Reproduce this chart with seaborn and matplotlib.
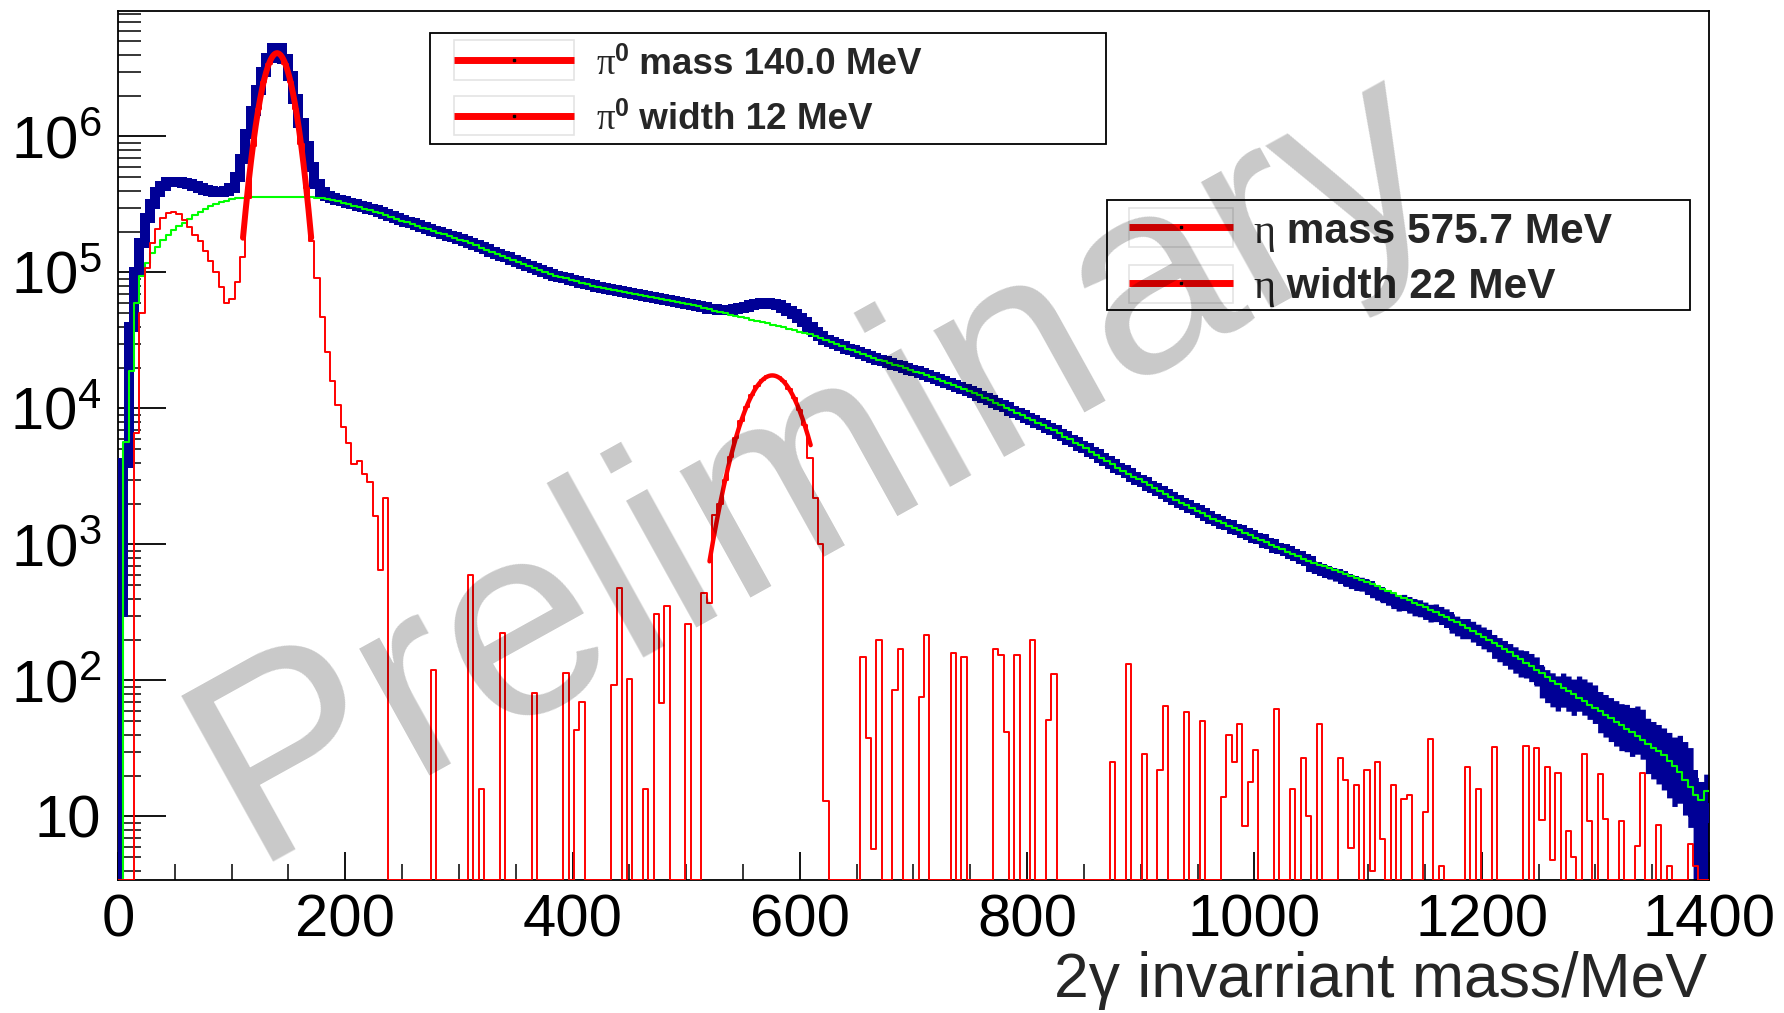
import numpy as np
import pandas as pd
import matplotlib
matplotlib.use("Agg")
import matplotlib.pyplot as plt
import seaborn as sns
from matplotlib.patches import Rectangle
from matplotlib.ticker import MultipleLocator, LogLocator, NullFormatter
from matplotlib.transforms import ScaledTranslation

# ---------------------------------------------------------------------------
# Two-photon invariant mass spectrum, 300 bins of 14/3 MeV from 0 to 1400 MeV
# ---------------------------------------------------------------------------
mass_lo, mass_hi, n_bins = 0.0, 1400.0, 300

# measured spectrum (all photon pairs)
data_counts = [
    320, 4.0e3, 4.0e4, 1.0e5, 1.65e5, 2.5e5, 3.2e5, 3.9e5, 4.35e5, 4.6e5,
    4.65e5, 4.6e5, 4.55e5, 4.45e5, 4.35e5, 4.2e5, 4.05e5, 3.95e5, 3.9e5, 3.88e5,
    3.95e5, 4.2e5, 5.0e5, 6.8e5, 1.05e6, 1.55e6, 2.2e6, 3.0e6, 3.8e6, 4.5e6,
    4.5e6, 3.7e6, 2.8e6, 1.9e6, 1.25e6, 8.5e5, 6.0e5, 4.5e5, 3.9e5, 3.65e5,
    3.5e5, 3.42e5, 3.34e5, 3.26e5, 3.17e5, 3.1e5, 3.02e5, 2.94e5, 2.86e5, 2.78e5,
    2.7e5, 2.6e5, 2.5e5, 2.42e5, 2.36e5, 2.3e5, 2.22e5, 2.16e5, 2.1e5, 2.03e5,
    1.97e5, 1.92e5, 1.86e5, 1.81e5, 1.75e5, 1.70e5, 1.65e5, 1.59e5, 1.53e5, 1.48e5,
    1.42e5, 1.37e5, 1.33e5, 1.29e5, 1.24e5, 1.20e5, 1.16e5, 1.12e5, 1.08e5, 1.04e5,
    1.0e5, 9.75e4, 9.5e4, 9.28e4, 9.05e4, 8.85e4, 8.62e4, 8.42e4, 8.22e4, 8.05e4,
    7.85e4, 7.7e4, 7.56e4, 7.45e4, 7.3e4, 7.2e4, 7.06e4, 6.94e4, 6.82e4, 6.72e4,
    6.6e4, 6.5e4, 6.38e4, 6.26e4, 6.15e4, 6.05e4, 5.95e4, 5.86e4, 5.76e4, 5.66e4,
    5.56e4, 5.42e4, 5.42e4, 5.33e4, 5.31e4, 5.34e4, 5.41e4, 5.51e4, 5.62e4, 5.75e4,
    5.88e4, 5.94e4, 5.94e4, 5.87e4, 5.73e4, 5.52e4, 5.25e4, 4.95e4, 4.64e4, 4.34e4,
    3.95e4, 3.63e4, 3.41e4, 3.18e4, 3.08e4, 2.96e4, 2.86e4, 2.75e4, 2.67e4, 2.58e4,
    2.5e4, 2.44e4, 2.36e4, 2.28e4, 2.23e4, 2.16e4, 2.1e4, 2.05e4, 1.98e4, 1.92e4,
    1.88e4, 1.81e4, 1.76e4, 1.69e4, 1.64e4, 1.6e4, 1.54e4, 1.49e4, 1.45e4, 1.39e4,
    1.34e4, 1.3e4, 1.24e4, 1.2e4, 1.16e4, 1.1e4, 1.06e4, 1.02e4, 9.6e3, 9.3e3,
    8.95e3, 8.5e3, 8.25e3, 7.85e3, 7.55e3, 7.2e3, 6.9e3, 6.5e3, 6.25e3, 5.9e3,
    5.65e3, 5.3e3, 5.1e3, 4.8e3, 4.6e3, 4.3e3, 4.1e3, 3.9e3, 3.65e3, 3.5e3,
    3.35e3, 3.15e3, 3.0e3, 2.88e3, 2.7e3, 2.6e3, 2.46e3, 2.35e3, 2.22e3, 2.14e3,
    2.02e3, 1.96e3, 1.85e3, 1.78e3, 1.69e3, 1.63e3, 1.54e3, 1.5e3, 1.42e3, 1.38e3,
    1.31e3, 1.28e3, 1.21e3, 1.18e3, 1.11e3, 1.09e3, 1.03e3, 1.0e3, 950, 925,
    890, 848, 820, 780, 760, 686, 663, 643, 622, 603,
    585, 554, 535, 519, 514, 497, 463, 445, 428, 411,
    390, 375, 378, 363, 348, 343, 329, 316, 318, 304,
    291, 266, 255, 244, 244, 232, 220, 209, 200, 181,
    172, 163, 154, 145, 137, 135, 128, 120, 101, 94.4,
    88.9, 83.8, 88.5, 83.6, 78.9, 83.6, 79.1, 74.6, 70.5, 62.1,
    58.6, 55.2, 52, 49, 48.3, 45.5, 46.8, 43.9, 36.7, 34.4,
    32.4, 30.2, 27.6, 25.1, 26, 22.9, 20.2, 10.7, 9.8, 11.5,
]

# combinatorial background estimate
background_counts = [
    0, 5.7e3, 1.9e4, 6.0e4, 9.5e4, 1.17e5, 1.38e5, 1.55e5, 1.72e5, 1.9e5,
    2.05e5, 2.18e5, 2.32e5, 2.48e5, 2.65e5, 2.8e5, 2.93e5, 3.07e5, 3.2e5, 3.3e5,
    3.38e5, 3.45e5, 3.5e5, 3.55e5, 3.6e5, 3.6e5, 3.6e5, 3.6e5, 3.6e5, 3.6e5,
    3.6e5, 3.6e5, 3.6e5, 3.6e5, 3.6e5, 3.6e5, 3.6e5, 3.55e5, 3.5e5, 3.45e5,
    3.39e5, 3.33e5, 3.26e5, 3.18e5, 3.10e5, 3.03e5, 2.95e5, 2.88e5, 2.80e5, 2.72e5,
    2.66e5, 2.57e5, 2.48e5, 2.40e5, 2.34e5, 2.28e5, 2.21e5, 2.14e5, 2.08e5, 2.02e5,
    1.96e5, 1.91e5, 1.85e5, 1.80e5, 1.74e5, 1.69e5, 1.64e5, 1.58e5, 1.52e5, 1.47e5,
    1.41e5, 1.37e5, 1.33e5, 1.28e5, 1.24e5, 1.20e5, 1.15e5, 1.11e5, 1.08e5, 1.04e5,
    1.0e5, 9.7e4, 9.46e4, 9.25e4, 9.04e4, 8.81e4, 8.61e4, 8.41e4, 8.2e4, 8.02e4,
    7.82e4, 7.67e4, 7.55e4, 7.41e4, 7.29e4, 7.16e4, 7.05e4, 6.92e4, 6.81e4, 6.70e4,
    6.58e4, 6.47e4, 6.35e4, 6.25e4, 6.14e4, 6.04e4, 5.94e4, 5.83e4, 5.74e4, 5.64e4,
    5.52e4, 5.38e4, 5.25e4, 5.13e4, 5.01e4, 4.9e4, 4.8e4, 4.7e4, 4.59e4, 4.5e4,
    4.42e4, 4.32e4, 4.22e4, 4.12e4, 4.03e4, 3.94e4, 3.85e4, 3.76e4, 3.67e4, 3.59e4,
    3.52e4, 3.41e4, 3.31e4, 3.18e4, 3.08e4, 2.96e4, 2.86e4, 2.75e4, 2.67e4, 2.58e4,
    2.5e4, 2.43e4, 2.36e4, 2.29e4, 2.22e4, 2.16e4, 2.10e4, 2.04e4, 1.98e4, 1.93e4,
    1.87e4, 1.81e4, 1.75e4, 1.70e4, 1.64e4, 1.59e4, 1.55e4, 1.49e4, 1.44e4, 1.39e4,
    1.34e4, 1.29e4, 1.25e4, 1.20e4, 1.15e4, 1.10e4, 1.06e4, 1.01e4, 9.7e3, 9.3e3,
    8.9e3, 8.55e3, 8.2e3, 7.87e3, 7.53e3, 7.23e3, 6.89e3, 6.55e3, 6.22e3, 5.92e3,
    5.62e3, 5.35e3, 5.08e3, 4.82e3, 4.57e3, 4.33e3, 4.1e3, 3.89e3, 3.68e3, 3.49e3,
    3.32e3, 3.16e3, 3.01e3, 2.86e3, 2.72e3, 2.59e3, 2.47e3, 2.34e3, 2.23e3, 2.13e3,
    2.03e3, 1.95e3, 1.86e3, 1.77e3, 1.70e3, 1.62e3, 1.55e3, 1.49e3, 1.43e3, 1.37e3,
    1.32e3, 1.27e3, 1.22e3, 1.17e3, 1.12e3, 1.08e3, 1.04e3, 995, 957, 923,
    887, 851, 817, 785, 759, 735, 711, 689, 667, 646,
    627, 607, 587, 569, 551, 533, 513, 493, 474, 456,
    438, 421, 405, 389, 373, 359, 344, 331, 318, 304,
    291, 279, 267, 255, 244, 232, 220, 209, 200, 190,
    180, 171, 161, 152, 143, 135, 128, 120, 113, 106,
    99.8, 94, 88.5, 83.6, 78.9, 74.5, 70.5, 66.5, 62.8, 59.3,
    56, 52.7, 49.7, 46.8, 44.1, 41.5, 38.9, 36.5, 34.2, 32.1,
    30.2, 28.2, 25.7, 23.4, 21.1, 18.6, 16.4, 14.5, 13.2, 15.5,
]

# background-subtracted spectrum
signal_counts = [
    0, 0, 0, 6.6e3, 5.0e4, 1.07e5, 1.64e5, 2.1e5, 2.5e5, 2.75e5,
    2.8e5, 2.7e5, 2.45e5, 2.15e5, 1.9e5, 1.7e5, 1.45e5, 1.22e5, 1.0e5, 7.8e4,
    6.0e4, 6.4e4, 8.5e4, 1.3e5, 3.5e5, 8.5e5, 1.6e6, 2.5e6, 3.4e6, 4.0e6,
    4.0e6, 3.4e6, 2.5e6, 1.6e6, 8.8e5, 4.2e5, 1.7e5, 9.1e4, 4.7e4, 2.6e4,
    1.6e4, 1.06e4, 7.3e3, 5.6e3, 3.9e3, 4.1e3, 3.3e3, 2.9e3, 1.63e3, 650,
    2.2e3, 0, 0, 0, 0, 0, 0, 0, 0, 120,
    0, 0, 0, 0, 0, 0, 600, 0, 16, 0,
    0, 0, 225, 0, 0, 0, 0, 0, 81, 0,
    0, 0, 0, 0, 114, 0, 43, 70, 0, 0,
    0, 0, 0, 93, 480, 0, 102, 0, 0, 16,
    0, 310, 68, 350, 0, 0, 0, 260, 0, 0,
    437, 372, 1650, 2.0e3, 3.0e3, 4.4e3, 6.1e3, 8.1e3, 1.03e4, 1.25e4,
    1.46e4, 1.62e4, 1.72e4, 1.75e4, 1.70e4, 1.58e4, 1.4e4, 1.19e4, 9.7e3, 7.5e3,
    4.3e3, 2.2e3, 1.0e3, 13, 0, 0, 0, 0, 0, 0,
    148, 38, 5.8, 200, 0, 0, 85, 170, 0, 0,
    0, 76, 215, 0, 0, 0, 0, 160, 0, 148,
    0, 0, 0, 0, 0, 170, 155, 42, 0, 155,
    0, 0, 200, 0, 0, 51, 112, 0, 0, 0,
    0, 0, 0, 0, 0, 0, 0, 25, 0, 0,
    132, 0, 0, 29, 0, 0, 22, 65, 0, 0,
    0, 59, 0, 0, 50, 0, 0, 0, 14, 40,
    25, 48, 8.5, 18, 31, 0, 0, 0, 62, 0,
    0, 16, 0, 27, 10, 0, 48, 0, 0, 0,
    27, 18.6, 5.9, 17, 0, 22, 4, 25, 6.8, 0,
    17, 0, 13.5, 14.4, 0, 0, 10.8, 37, 0, 4.3,
    0, 0, 0, 0, 23, 0, 16, 0, 0, 32.6,
    0, 0, 0, 0, 0, 33, 0, 32, 9.4, 23,
    4.8, 21, 0, 7.8, 5, 0, 29, 9.3, 0, 20.5,
    9.5, 0, 0, 9.3, 0, 0, 6.1, 21, 0, 0,
    8.7, 0, 4.3, 0, 0, 0, 6.3, 4.3, 0, 0,
]

# Gaussian fits to the two peaks (mass and width in MeV)
pi0_fit = {"mass": 140.0, "width": 12.0, "peak": 4.1e6, "lo": 110.0, "hi": 170.0}
eta_fit = {"mass": 575.7, "width": 22.0, "peak": 1.75e4, "lo": 520.5, "hi": 609.5}
event_weight = 7.0          # mean event weight, sets the data error boxes

y_lo, y_hi = 3.41, 8.37e6
y_ticks = [1e1, 1e2, 1e3, 1e4, 1e5, 1e6]
y_tick_labels = ["10", r"$\mathregular{10^{2}}$", r"$\mathregular{10^{3}}$",
                 r"$\mathregular{10^{4}}$", r"$\mathregular{10^{5}}$",
                 r"$\mathregular{10^{6}}$"]
x_label = "2\u03b3 invarriant mass/MeV"
pi0_entries = [" mass 140.0 MeV", " width 12 MeV"]
eta_entries = [" mass 575.7 MeV", " width 22 MeV"]
watermark = "Preliminary"

for arr in (data_counts, background_counts, signal_counts):
    assert len(arr) == n_bins

# ---------------------------------------------------------------------------
sns.set_theme(style="white")
plt.rcParams["font.family"] = ["Liberation Sans", "DejaVu Sans"]
plt.rcParams["axes.edgecolor"] = "black"
plt.rcParams["axes.linewidth"] = 1.3

NAVY = "#000096"
RED = "#ff0000"
GREEN = "#00ff00"

fig = plt.figure(figsize=(17.84, 10.13), dpi=100, facecolor="white")
ax = fig.add_axes([0.06614, 0.13129, 0.89182, 0.85785])
ax.set_facecolor("white")

edges = np.linspace(mass_lo, mass_hi, n_bins + 1)
data = np.asarray(data_counts, float)
bkg = np.asarray(background_counts, float)
sig = np.asarray(signal_counts, float)


def outline(vals, from_floor=False):
    """Histogram outline as step points; empty bins sit on the frame bottom."""
    v = np.where(vals > 0, vals, y_lo)
    x = edges.copy()
    y = np.append(v, v[-1])
    if from_floor:
        x = np.insert(x, 0, edges[0])
        y = np.insert(y, 0, y_lo)
    return pd.DataFrame({"mass": x, "counts": y})


# data: error boxes plus a thick outline
err = np.sqrt(event_weight * data)
lo = np.clip(data - err, y_lo, None)
hi = data + err
ax.fill_between(edges, np.append(lo, lo[-1]), np.append(hi, hi[-1]),
                step="post", color=NAVY, lw=0, zorder=2)
sns.lineplot(data=outline(data, from_floor=True), x="mass", y="counts",
             drawstyle="steps-post", estimator=None, sort=False, color=NAVY,
             lw=7.2, solid_joinstyle="miter", legend=False, ax=ax, zorder=3)

# background
sns.lineplot(data=outline(bkg), x="mass", y="counts", drawstyle="steps-post",
             estimator=None, sort=False, color=GREEN, lw=1.5, legend=False,
             ax=ax, zorder=4)

# background-subtracted
sns.lineplot(data=outline(sig), x="mass", y="counts", drawstyle="steps-post",
             estimator=None, sort=False, color=RED, lw=1.4, legend=False,
             ax=ax, zorder=5)

# peak fits
for fit, lw in ((pi0_fit, 4.3), (eta_fit, 3.2)):
    m = np.linspace(fit["lo"], fit["hi"], 300)
    g = fit["peak"] * np.exp(-0.5 * ((m - fit["mass"]) / fit["width"]) ** 2)
    sns.lineplot(x=m, y=g, color=RED, lw=lw, estimator=None, sort=False,
                 legend=False, ax=ax, zorder=6)

ax.set_yscale("log")
ax.set_xlim(mass_lo, mass_hi)
ax.set_ylim(y_lo, y_hi)
ax.set_xlabel("")
ax.set_ylabel("")

# axes ticks, drawn inside the frame on left and bottom only
ax.xaxis.set_major_locator(MultipleLocator(200))
ax.xaxis.set_minor_locator(MultipleLocator(50))
ax.set_yticks(y_ticks)
ax.set_yticklabels(y_tick_labels)
ax.yaxis.set_minor_locator(LogLocator(base=10, subs=np.arange(2, 10), numticks=30))
ax.yaxis.set_minor_formatter(NullFormatter())
ax.tick_params(axis="x", which="major", direction="in", length=20, width=1.3,
               labelsize=43, pad=10, top=False, bottom=True, colors="black")
ax.tick_params(axis="x", which="minor", direction="in", length=11.5, width=1.3,
               top=False, bottom=True)
ax.tick_params(axis="y", which="major", direction="in", length=34.5, width=1.3,
               labelsize=43, pad=12, right=False, left=True, colors="black")
ax.tick_params(axis="y", which="minor", direction="in", length=16.5, width=1.3,
               right=False, left=True)
for s in ax.spines.values():
    s.set_visible(True)
    s.set_color("black")
    s.set_linewidth(1.3)

fig.text(0.9568, 0.0158, x_label, ha="right", va="baseline", fontsize=45)

# ---------------------------------------------------------------------------
fig.canvas.draw()
renderer = fig.canvas.get_renderer()


def text_run(x, y, pieces, zorder=9):
    """Write pieces left to right on one baseline (axes coordinates)."""
    for s, props, rise in pieces:
        tr = ax.transAxes + ScaledTranslation(0, rise / 72.0, fig.dpi_scale_trans)
        t = ax.text(x, y, s, transform=tr, ha="left", va="baseline",
                    zorder=zorder, **props)
        bb = t.get_window_extent(renderer)
        x = ax.transAxes.inverted().transform((bb.x1, bb.y0))[0]


def legend_box(box, sample_x, sample_ys, cell_ys, text_x, baselines,
               greek, entries, size, sup=None):
    x0, x1, y0, y1 = box
    ax.add_patch(Rectangle((x0, y0), x1 - x0, y1 - y0, transform=ax.transAxes,
                           facecolor="white", edgecolor="black", lw=1.3,
                           zorder=8, clip_on=False))
    for ys, (cy0, cy1), base, label in zip(sample_ys, cell_ys, baselines, entries):
        ax.add_patch(Rectangle((sample_x[0], cy0), sample_x[1] - sample_x[0],
                               cy1 - cy0, transform=ax.transAxes, fill=False,
                               edgecolor="#e4e4e4", lw=1.2, zorder=8.5))
        ax.plot(sample_x, [ys, ys], transform=ax.transAxes, color=RED,
                lw=5.0, solid_capstyle="butt", zorder=8.6)
        ax.plot([0.5 * (sample_x[0] + sample_x[1])], [ys], transform=ax.transAxes,
                marker="s", ms=1.6, color="black", zorder=8.7)
        pieces = [(greek, {"fontsize": size, "family": ["Liberation Serif", "DejaVu Serif"]}, 0)]
        if sup is not None:
            pieces.append((sup, {"fontsize": size * 0.68, "fontweight": "bold"}, size * 0.36))
        pieces.append((label, {"fontsize": size, "fontweight": "bold"}, 0))
        text_run(text_x, base, pieces)


legend_box((0.1961, 0.6210, 0.8464, 0.9747), (0.2109, 0.2866),
           (0.9436, 0.8792), ((0.9206, 0.9666), (0.8573, 0.9022)),
           0.3010, (0.9275, 0.8642), "\u03c0", pi0_entries, 26.5, sup="0")
legend_box((0.6216, 0.9880, 0.6565, 0.7825), (0.6353, 0.7008),
           (0.7514, 0.6870), ((0.7284, 0.7733), (0.6640, 0.7077)),
           0.7134, (0.7336, 0.6692), "\u03b7", eta_entries, 30.5)

# translucent watermark over everything
ax.text(0.440, 0.476, watermark, transform=ax.transAxes, rotation=29,
        fontsize=198, color="black", alpha=0.215, ha="center", va="center",
        family="Liberation Sans", zorder=20)

fig.savefig("out.png", dpi=100, facecolor="white")
